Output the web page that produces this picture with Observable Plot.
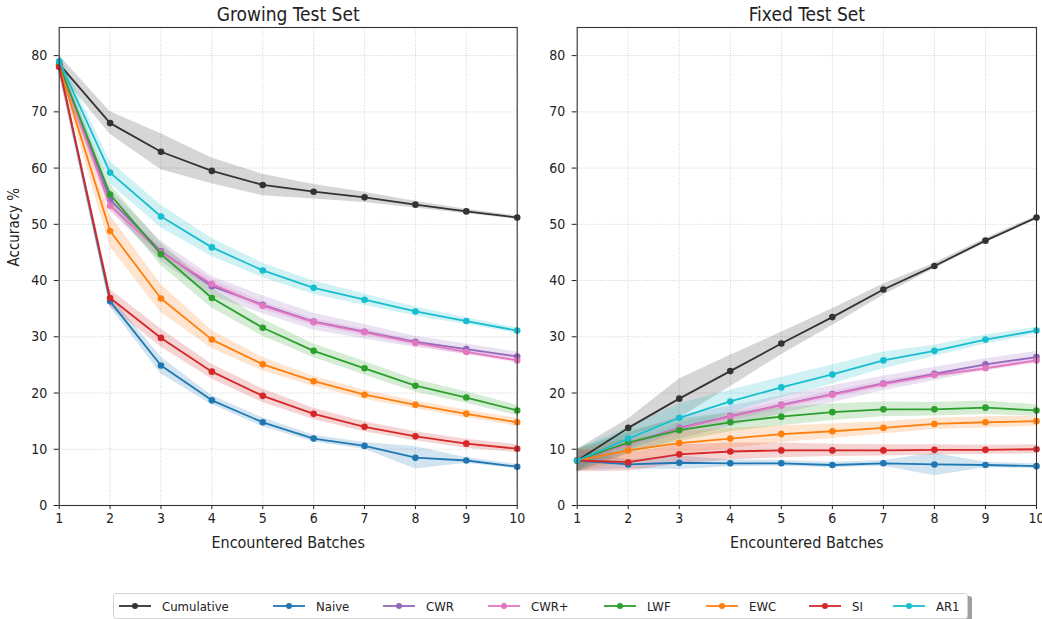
<!DOCTYPE html>
<html><head><meta charset="utf-8">
<script src="https://cdn.jsdelivr.net/npm/d3@7"></script>
<script src="https://cdn.jsdelivr.net/npm/@observablehq/plot@0.6"></script>
<style>
body{margin:0;background:#fff;}
#fig{position:relative;width:1042px;height:619px;overflow:hidden;font-family:"DejaVu Sans Condensed","DejaVu Sans",sans-serif;font-stretch:condensed;color:#222;}
.panel{position:absolute;top:0;}
#legend{position:absolute;left:113px;top:593px;width:855px;height:26px;border:1px solid #d4d4d4;border-radius:3px;background:#fff;box-shadow:4px 3px 0 #a0a0a0;box-sizing:border-box;}
.item{position:absolute;top:0;height:24px;display:flex;align-items:center;font-size:13px;white-space:nowrap;}
.item svg{margin-right:11px;}
</style></head><body><div id="fig"></div>
<script>
// ---------- data ----------
const batches = [1, 2, 3, 4, 5, 6, 7, 8, 9, 10];
const yTicks = [0, 10, 20, 30, 40, 50, 60, 70, 80];
const methods = ["Cumulative", "Naive", "CWR", "CWR+", "LWF", "EWC", "SI", "AR1"];
const colors = ["#333333", "#1f77b4", "#9467bd", "#e377c2", "#2ca02c", "#ff7f0e", "#d62728", "#17becf"];
const panelTitles = ["Growing Test Set", "Fixed Test Set"];

// Growing test set: mean accuracy and spread (band half-width)
const growCumulative   = [78.5, 68.0, 62.9, 59.5, 57.0, 55.8, 54.8, 53.5, 52.3, 51.2];
const growCumulativeSd = [1.5, 2.0, 3.2, 2.3, 1.9, 1.3, 0.9, 0.6, 0.4, 0.3];
const growNaive        = [78.0, 36.3, 24.9, 18.7, 14.8, 11.9, 10.6, 8.5, 8.0, 6.9];
const growNaiveSd      = [1.2, 1.0, 1.5, 0.8, 0.8, 0.6, 0.6, 2.0, 0.5, 0.4];
const growCWR          = [78.3, 54.4, 45.2, 39.0, 35.7, 32.7, 30.9, 29.1, 27.8, 26.5];
const growCWRSd        = [1.2, 1.8, 1.8, 1.7, 1.6, 1.5, 1.3, 1.0, 0.9, 0.8];
const growCWRp         = [78.3, 53.3, 45.0, 39.4, 35.5, 32.6, 30.8, 28.9, 27.3, 25.8];
const growCWRpSd       = [1.2, 1.0, 1.0, 0.8, 0.7, 0.6, 0.6, 0.5, 0.5, 0.5];
const growLWF          = [78.3, 55.3, 44.7, 36.9, 31.6, 27.5, 24.4, 21.3, 19.2, 16.9];
const growLWFSd        = [1.2, 1.8, 2.0, 1.8, 1.5, 1.2, 1.2, 1.1, 1.0, 0.9];
const growEWC          = [78.0, 48.8, 36.8, 29.5, 25.1, 22.1, 19.7, 17.9, 16.3, 14.8];
const growEWCSd        = [1.2, 2.8, 2.5, 1.6, 1.2, 0.9, 0.8, 0.7, 0.7, 0.7];
const growSI           = [78.0, 36.9, 29.8, 23.8, 19.5, 16.3, 14.0, 12.3, 11.0, 10.1];
const growSISd         = [1.2, 1.5, 1.6, 1.3, 1.2, 1.0, 0.9, 0.8, 0.8, 0.7];
const growAR1          = [79.0, 59.2, 51.4, 45.9, 41.8, 38.7, 36.6, 34.5, 32.8, 31.1];
const growAR1Sd        = [1.3, 2.0, 2.0, 1.6, 1.3, 1.2, 1.0, 0.8, 0.6, 0.5];

// Fixed test set
const fixCumulative   = [8.0, 13.8, 19.0, 23.9, 28.8, 33.5, 38.4, 42.6, 47.1, 51.2];
const fixCumulativeSd = [2.0, 1.6, 3.5, 2.8, 2.0, 1.5, 1.0, 0.5, 0.4, 0.3];
const fixNaive        = [8.0, 7.3, 7.6, 7.5, 7.5, 7.2, 7.5, 7.3, 7.2, 7.0];
const fixNaiveSd      = [1.8, 0.8, 1.2, 0.6, 0.5, 0.5, 0.5, 2.0, 0.5, 0.4];
const fixCWR          = [8.0, 11.0, 13.8, 15.9, 17.9, 19.8, 21.7, 23.4, 25.1, 26.4];
const fixCWRSd        = [2.0, 1.8, 2.0, 1.8, 1.6, 1.5, 1.3, 1.2, 1.0, 1.0];
const fixCWRp         = [8.0, 10.9, 13.7, 15.8, 17.8, 19.7, 21.6, 23.2, 24.4, 25.8];
const fixCWRpSd       = [1.5, 1.0, 1.0, 0.8, 0.7, 0.6, 0.6, 0.5, 0.5, 0.5];
const fixLWF          = [8.0, 11.2, 13.4, 14.8, 15.8, 16.6, 17.1, 17.1, 17.4, 16.9];
const fixLWFSd        = [2.0, 2.0, 2.0, 1.7, 1.6, 1.5, 1.3, 1.2, 1.2, 1.0];
const fixEWC          = [8.0, 9.8, 11.1, 11.9, 12.7, 13.2, 13.8, 14.5, 14.8, 15.0];
const fixEWCSd        = [2.0, 2.0, 2.0, 1.8, 1.5, 1.3, 1.1, 1.0, 1.0, 0.9];
const fixSI           = [8.0, 7.7, 9.1, 9.6, 9.8, 9.8, 9.8, 9.9, 9.9, 10.0];
const fixSISd         = [2.0, 1.6, 1.7, 1.5, 1.3, 1.1, 1.0, 0.9, 0.8, 0.8];
const fixAR1          = [8.0, 11.9, 15.6, 18.5, 21.0, 23.3, 25.8, 27.5, 29.5, 31.1];
const fixAR1Sd        = [2.0, 2.0, 2.5, 2.0, 1.8, 1.7, 1.5, 1.0, 0.8, 0.6];

const growMeans = [growCumulative, growNaive, growCWR, growCWRp, growLWF, growEWC, growSI, growAR1];
const growSds   = [growCumulativeSd, growNaiveSd, growCWRSd, growCWRpSd, growLWFSd, growEWCSd, growSISd, growAR1Sd];
const fixMeans  = [fixCumulative, fixNaive, fixCWR, fixCWRp, fixLWF, fixEWC, fixSI, fixAR1];
const fixSds    = [fixCumulativeSd, fixNaiveSd, fixCWRSd, fixCWRpSd, fixLWFSd, fixEWCSd, fixSISd, fixAR1Sd];

// ---------- build ----------
const FONT = '"DejaVu Sans Condensed","DejaVu Sans",sans-serif';

function rowsOf(means, sds) {
  const rows = [];
  methods.forEach((m, i) => batches.forEach((b, j) => rows.push({
    method: m, batch: b, mean: means[i][j], lo: means[i][j] - sds[i][j], hi: means[i][j] + sds[i][j]
  })));
  return rows;
}

function panel(title, means, sds, yLabel, width, ml, mr) {
  const rows = rowsOf(means, sds);
  const gridStyle = {stroke: "#c4c4c4", strokeOpacity: 1, strokeWidth: 0.8, strokeDasharray: "1,1.6"};
  const marks = [
    Plot.ruleX(batches, {x: d => d, ...gridStyle}),
    Plot.ruleY(yTicks, {y: d => d, ...gridStyle}),
    Plot.areaY(rows, {x: "batch", y1: "lo", y2: "hi", z: "method", fill: "method", fillOpacity: 0.2, curve: "linear"})
  ];
  methods.forEach(m => {
    const sub = rows.filter(r => r.method === m);
    marks.push(Plot.lineY(sub, {x: "batch", y: "mean", stroke: "method", strokeWidth: 1.8}));
    marks.push(Plot.dot(sub, {x: "batch", y: "mean", fill: "method", r: 3.3}));
  });
  marks.push(Plot.frame({stroke: "#333", strokeWidth: 1.1}));
  marks.push(Plot.text([title], {frameAnchor: "top", lineAnchor: "middle", dy: -13, text: d => d, fontSize: 19, fill: "#222"}));
  marks.push(Plot.text(["Encountered Batches"], {frameAnchor: "bottom", lineAnchor: "middle", dy: 37, text: d => d, fontSize: 16, fill: "#222"}));
  if (yLabel) marks.push(Plot.text([yLabel], {frameAnchor: "left", lineAnchor: "middle", dx: -45, rotate: -90, text: d => d, fontSize: 15, fill: "#222"}));
  return Plot.plot({
    width, height: 560, marginLeft: ml, marginRight: mr, marginTop: 27, marginBottom: 55,
    style: {fontFamily: FONT, fontSize: "14px", color: "#222", background: "transparent", overflow: "visible"},
    x: {domain: [1, 10], ticks: batches, tickFormat: d => String(d), tickSize: 4, tickPadding: 4, label: null},
    y: {domain: [0, 85], ticks: yTicks, tickFormat: d => String(d), tickSize: 5, tickPadding: 7, label: null},
    color: {domain: methods, range: colors},
    marks
  });
}

const fig = document.getElementById("fig");
const left = panel(panelTitles[0], growMeans, growSds, "Accuracy %", 520, 58.7, 3.3);
left.classList.add("panel"); left.style.left = "0px";
fig.appendChild(left);
const right = panel(panelTitles[1], fixMeans, fixSds, null, 522, 56.7, 6);
right.classList.add("panel"); right.style.left = "520px";
fig.appendChild(right);

// legend
const legendX = [5, 159, 269, 374, 490, 592, 695, 779];
const legend = document.createElement("div");
legend.id = "legend";
methods.forEach((m, i) => {
  const it = document.createElement("div");
  it.className = "item";
  it.style.left = legendX[i] + "px";
  it.innerHTML = `<svg width="32" height="10"><line x1="0" y1="5" x2="32" y2="5" stroke="${colors[i]}" stroke-width="1.8"/><circle cx="16" cy="5" r="3" fill="${colors[i]}"/></svg><span>${m}</span>`;
  legend.appendChild(it);
});
fig.appendChild(legend);
</script></body></html>
